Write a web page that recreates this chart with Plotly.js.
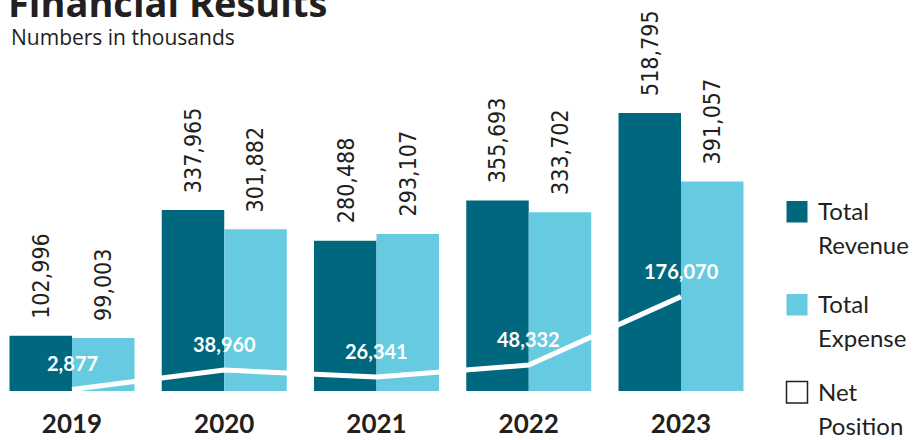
<!DOCTYPE html>
<html>
<head>
<meta charset="utf-8">
<script src="https://cdn.plot.ly/plotly-3.0.1.min.js"></script>
<style>html,body{margin:0;padding:0;background:#fff;}#chart{width:922px;height:440px;}</style>
</head>
<body>
<div id="chart"></div>
<script>
// ---- data ----
var years = ['2019', '2020', '2021', '2022', '2023'];
var totalRevenue = [102996, 337965, 280488, 355693, 518795];
var totalExpense = [99003, 301882, 293107, 333702, 391057];
var netPosition = [2877, 38960, 26341, 48332, 176070];
var legendLabels = [['Total', 'Revenue'], ['Total', 'Expense'], ['Net', 'Position']];
var titleText = 'Financial Results';
var subtitleText = 'Numbers in thousands';

// ---- style ----
var REV = '#00687e';
var EXP = '#66cbe0';
var DARK = '#231f20';
var W = 922, H = 440;
var M = {l: 0, r: 162, t: 40, b: 49};
var PW = W - M.l - M.r, PH = H - M.t - M.b;
function px(x) { return (x - M.l) / PW; }
function py(y) { return (H - M.b - y) / PH; }
function fmt(v) { return String(v).replace(/\B(?=(\d{3})+(?!\d))/g, ','); }

var numFont = {family: '"DejaVu Sans Condensed", "Liberation Sans", sans-serif', size: 23, color: DARK};

var traces = [
  {type: 'bar', name: 'Total Revenue', x: years, y: totalRevenue, marker: {color: REV}, hoverinfo: 'skip'},
  {type: 'bar', name: 'Total Expense', x: years, y: totalExpense, marker: {color: EXP}, hoverinfo: 'skip'},
  {type: 'scatter', mode: 'lines', name: 'Net Position', x: years, y: netPosition,
   line: {color: '#ffffff', width: 5}, hoverinfo: 'skip', cliponaxis: false}
];

var annotations = [];
years.forEach(function (yr, i) {
  annotations.push({x: i, y: totalRevenue[i], xref: 'x', yref: 'y', text: fmt(totalRevenue[i]),
    showarrow: false, textangle: -90, xanchor: 'center', yanchor: 'bottom', xshift: -31, yshift: 15, font: numFont});
  annotations.push({x: i, y: totalExpense[i], xref: 'x', yref: 'y', text: fmt(totalExpense[i]),
    showarrow: false, textangle: -90, xanchor: 'center', yanchor: 'bottom', xshift: 31, yshift: 15, font: numFont});
  annotations.push({x: i, y: netPosition[i], xref: 'x', yref: 'y', text: '<b>' + fmt(netPosition[i]) + '</b>',
    showarrow: false, xanchor: 'center', yanchor: 'middle', yshift: 26,
    font: {family: 'Lato, sans-serif', size: 20, color: '#ffffff'}});
});

annotations.push({xref: 'paper', yref: 'paper', x: px(6), y: py(2.5), xanchor: 'left', yanchor: 'middle',
  text: '<b>' + titleText + '</b>', showarrow: false,
  font: {family: '"Open Sans", sans-serif', size: 38, color: DARK}});
annotations.push({xref: 'paper', yref: 'paper', x: px(8.5), y: py(37), xanchor: 'left', yanchor: 'middle',
  text: subtitleText, showarrow: false,
  font: {family: '"Open Sans", sans-serif', size: 21, color: DARK}});

var legendRows = [210.5, 303.5, 391];
var shapes = [];
var swatchFill = [REV, EXP, '#ffffff'];
legendLabels.forEach(function (lines, k) {
  var top = legendRows[k] - 9.5;
  shapes.push({type: 'rect', xref: 'paper', yref: 'paper',
    x0: px(786.5), x1: px(807.5), y0: py(top), y1: py(top + 21.5),
    fillcolor: swatchFill[k],
    line: k === 2 ? {color: DARK, width: 1.5} : {width: 0}});
  lines.forEach(function (t, j) {
    annotations.push({xref: 'paper', yref: 'paper', x: px(816), y: py(legendRows[k] + 34 * j),
      xanchor: 'left', yanchor: 'middle', text: t, showarrow: false,
      font: {family: 'Lato, sans-serif', size: 24, color: DARK}});
  });
});

var layout = {
  width: W, height: H,
  margin: M,
  paper_bgcolor: '#ffffff', plot_bgcolor: '#ffffff',
  showlegend: false,
  barmode: 'group', bargap: 0.179, bargroupgap: 0,
  xaxis: {type: 'category', range: [-72 / 152.25, -72 / 152.25 + PW / 152.25],
    showgrid: false, zeroline: false, showline: false, ticks: '', ticklabelstandoff: 15,
    tickfont: {family: 'Lato, sans-serif', size: 26, color: DARK, weight: 'bold'}, fixedrange: true},
  yaxis: {range: [0, PH * 1866], visible: false, fixedrange: true},
  annotations: annotations,
  shapes: shapes
};

Plotly.newPlot('chart', traces, layout, {displayModeBar: false, staticPlot: true});
</script>
</body>
</html>
